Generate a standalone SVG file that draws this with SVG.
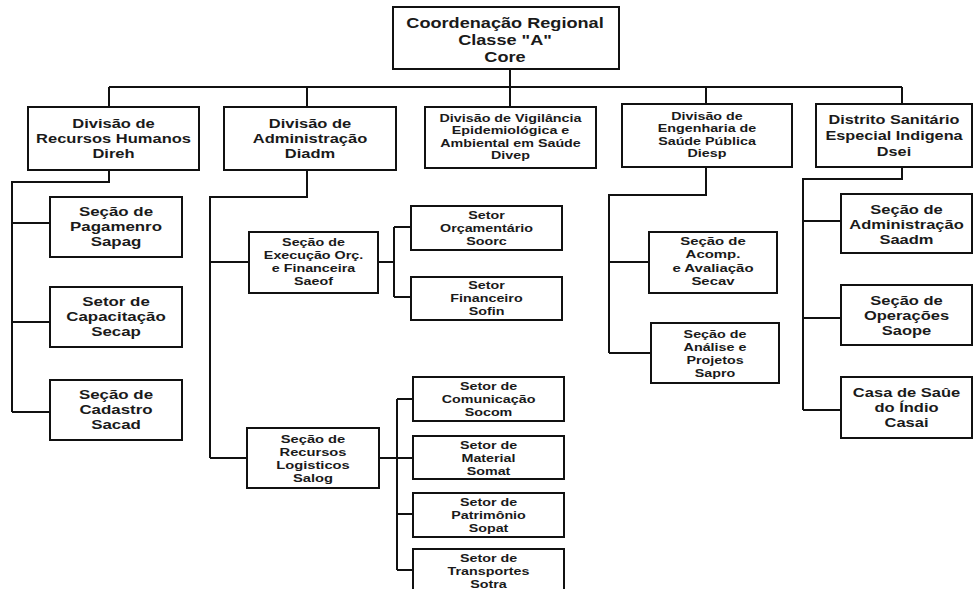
<svg xmlns="http://www.w3.org/2000/svg" width="975" height="589" viewBox="0 0 975 589">
<style>
  .bg{fill:#ffffff}
  .box{fill:#ffffff;stroke:#111;stroke-width:2}
  .ln{fill:none;stroke:#111;stroke-width:2}
  text{font-family:"Liberation Sans",Arial,Helvetica,sans-serif;font-weight:bold;fill:#1a1a1a;text-anchor:middle}
  .f15{font-size:15px}
  .f13{font-size:13px}
  .f12{font-size:12px}
  .f115{font-size:11.5px}
  .f11{font-size:11px}
</style>
<rect class="bg" x="0" y="0" width="975" height="589"/>
<g id="connectors">
  <path class="ln" d="M510 69 V87 M109 87 H902 M109 87 V107 M307 87 V107 M510 87 V107 M706 87 V104 M902 87 V104"/>
  <path class="ln" d="M109 170 V182 H12 V412 M12 223 H50 M12 322 H50 M12 412 H50"/>
  <path class="ln" d="M307 170 V197 H210 V458 M210 262 H249 M210 458 H247"/>
  <path class="ln" d="M378 262 H394 M394 227 V297 M394 227 H411 M394 297 H411"/>
  <path class="ln" d="M379 458 H397 M397 399 V570 M397 399 H413 M397 458 H413 M397 514 H413 M397 570 H413"/>
  <path class="ln" d="M706 167 V195 H609 V353 M609 262 H649 M609 353 H651"/>
  <path class="ln" d="M902 167 V179 H803 V410 M803 221 H841 M803 318 H841 M803 410 H841"/>
</g>
<g id="core">
  <rect class="box" x="393" y="7" width="226" height="62"/>
  <g transform="translate(505 0) scale(1.21 1)"><text class="f15"><tspan x="0" y="28">Coordenação Regional</tspan><tspan x="0" y="45">Classe "A"</tspan><tspan x="0" y="62">Core</tspan></text></g>
</g>
<g id="direh">
  <rect class="box" x="28" y="107" width="171" height="63"/>
  <g transform="translate(113.5 0) scale(1.27 1)"><text class="f13"><tspan x="0" y="128">Divisão de</tspan><tspan x="0" y="143">Recursos Humanos</tspan><tspan x="0" y="158">Direh</tspan></text></g>
</g>
<g id="diadm">
  <rect class="box" x="224" y="107" width="172" height="63"/>
  <g transform="translate(310 0) scale(1.27 1)"><text class="f13"><tspan x="0" y="128">Divisão de</tspan><tspan x="0" y="143">Administração</tspan><tspan x="0" y="158">Diadm</tspan></text></g>
</g>
<g id="divep">
  <rect class="box" x="425" y="107" width="171" height="61"/>
  <g transform="translate(510.5 0) scale(1.3 1)"><text class="f11"><tspan x="0" y="122">Divisão de Vigilância</tspan><tspan x="0" y="134.5">Epidemiológica e</tspan><tspan x="0" y="147">Ambiental em Saúde</tspan><tspan x="0" y="159.5">Divep</tspan></text></g>
</g>
<g id="diesp">
  <rect class="box" x="622" y="104" width="170" height="63"/>
  <g transform="translate(707 0) scale(1.3 1)"><text class="f11"><tspan x="0" y="120">Divisão de</tspan><tspan x="0" y="132.5">Engenharia de</tspan><tspan x="0" y="145">Saúde Pública</tspan><tspan x="0" y="157.5">Diesp</tspan></text></g>
</g>
<g id="dsei">
  <rect class="box" x="816" y="104" width="156" height="63"/>
  <g transform="translate(894 0) scale(1.25 1)"><text class="f13"><tspan x="0" y="124">Distrito Sanitário</tspan><tspan x="0" y="140">Especial Indigena</tspan><tspan x="0" y="156">Dsei</tspan></text></g>
</g>
<g id="sapag">
  <rect class="box" x="50" y="197" width="132" height="60"/>
  <g transform="translate(116 0) scale(1.3 1)"><text class="f13"><tspan x="0" y="216">Seção de</tspan><tspan x="0" y="231">Pagamenro</tspan><tspan x="0" y="246">Sapag</tspan></text></g>
</g>
<g id="secap">
  <rect class="box" x="50" y="287" width="132" height="60"/>
  <g transform="translate(116 0) scale(1.3 1)"><text class="f13"><tspan x="0" y="306">Setor de</tspan><tspan x="0" y="321">Capacitação</tspan><tspan x="0" y="336">Secap</tspan></text></g>
</g>
<g id="sacad">
  <rect class="box" x="50" y="380" width="132" height="60"/>
  <g transform="translate(116 0) scale(1.3 1)"><text class="f13"><tspan x="0" y="399">Seção de</tspan><tspan x="0" y="414">Cadastro</tspan><tspan x="0" y="429">Sacad</tspan></text></g>
</g>
<g id="saeof">
  <rect class="box" x="249" y="232" width="129" height="61"/>
  <g transform="translate(313.5 0) scale(1.3 1)"><text class="f11"><tspan x="0" y="246">Seção de</tspan><tspan x="0" y="259">Execução Orç.</tspan><tspan x="0" y="272">e Financeira</tspan><tspan x="0" y="285">Saeof</tspan></text></g>
</g>
<g id="soorc">
  <rect class="box" x="411" y="206" width="151" height="44"/>
  <g transform="translate(486.5 0) scale(1.3 1)"><text class="f11"><tspan x="0" y="219">Setor</tspan><tspan x="0" y="232">Orçamentário</tspan><tspan x="0" y="245">Soorc</tspan></text></g>
</g>
<g id="sofin">
  <rect class="box" x="411" y="277" width="151" height="43"/>
  <g transform="translate(486.5 0) scale(1.3 1)"><text class="f11"><tspan x="0" y="289">Setor</tspan><tspan x="0" y="302">Financeiro</tspan><tspan x="0" y="315">Sofin</tspan></text></g>
</g>
<g id="salog">
  <rect class="box" x="247" y="428" width="132" height="60"/>
  <g transform="translate(313 0) scale(1.28 1)"><text class="f115"><tspan x="0" y="443">Seção de</tspan><tspan x="0" y="456">Recursos</tspan><tspan x="0" y="469">Logisticos</tspan><tspan x="0" y="482">Salog</tspan></text></g>
</g>
<g id="socom">
  <rect class="box" x="413" y="377" width="151" height="44"/>
  <g transform="translate(488.5 0) scale(1.3 1)"><text class="f11"><tspan x="0" y="390">Setor de</tspan><tspan x="0" y="403">Comunicação</tspan><tspan x="0" y="416">Socom</tspan></text></g>
</g>
<g id="somat">
  <rect class="box" x="413" y="436" width="151" height="43"/>
  <g transform="translate(488.5 0) scale(1.3 1)"><text class="f11"><tspan x="0" y="449">Setor de</tspan><tspan x="0" y="462">Material</tspan><tspan x="0" y="475">Somat</tspan></text></g>
</g>
<g id="sopat">
  <rect class="box" x="413" y="493" width="151" height="44"/>
  <g transform="translate(488.5 0) scale(1.3 1)"><text class="f11"><tspan x="0" y="506">Setor de</tspan><tspan x="0" y="519">Patrimônio</tspan><tspan x="0" y="532">Sopat</tspan></text></g>
</g>
<g id="sotra">
  <rect class="box" x="413" y="549" width="151" height="46"/>
  <g transform="translate(488.5 0) scale(1.3 1)"><text class="f11"><tspan x="0" y="562">Setor de</tspan><tspan x="0" y="575">Transportes</tspan><tspan x="0" y="588">Sotra</tspan></text></g>
</g>
<g id="secav">
  <rect class="box" x="649" y="232" width="128" height="61"/>
  <g transform="translate(713 0) scale(1.3 1)"><text class="f115"><tspan x="0" y="245">Seção de</tspan><tspan x="0" y="258.5">Acomp.</tspan><tspan x="0" y="272">e Avaliação</tspan><tspan x="0" y="285.5">Secav</tspan></text></g>
</g>
<g id="sapro">
  <rect class="box" x="651" y="323" width="128" height="60"/>
  <g transform="translate(715 0) scale(1.3 1)"><text class="f11"><tspan x="0" y="338">Seção de</tspan><tspan x="0" y="351">Análise e</tspan><tspan x="0" y="364">Projetos</tspan><tspan x="0" y="377">Sapro</tspan></text></g>
</g>
<g id="saadm">
  <rect class="box" x="841" y="194" width="131" height="59"/>
  <g transform="translate(906.5 0) scale(1.27 1)"><text class="f13"><tspan x="0" y="214">Seção de</tspan><tspan x="0" y="229">Administração</tspan><tspan x="0" y="244">Saadm</tspan></text></g>
</g>
<g id="saope">
  <rect class="box" x="841" y="285" width="131" height="60"/>
  <g transform="translate(906.5 0) scale(1.27 1)"><text class="f13"><tspan x="0" y="305">Seção de</tspan><tspan x="0" y="320">Operações</tspan><tspan x="0" y="335">Saope</tspan></text></g>
</g>
<g id="casai">
  <rect class="box" x="841" y="377" width="131" height="61"/>
  <g transform="translate(906.5 0) scale(1.27 1)"><text class="f13"><tspan x="0" y="397">Casa de Saûe</tspan><tspan x="0" y="412">do  Índio</tspan><tspan x="0" y="427">Casai</tspan></text></g>
</g>
</svg>
